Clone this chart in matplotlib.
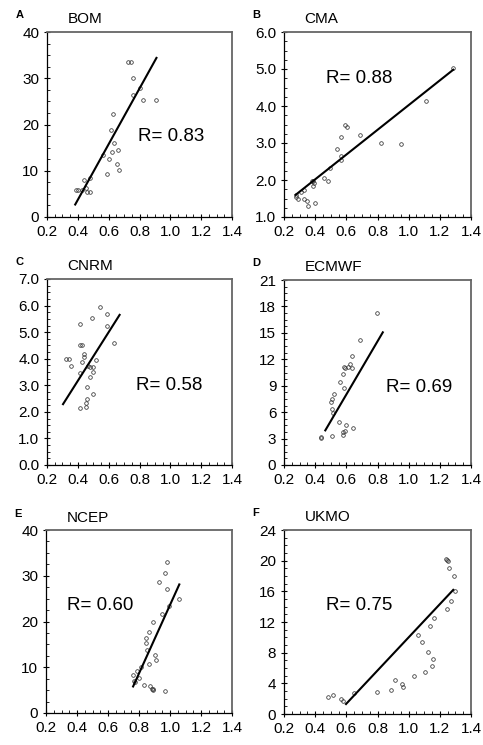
import matplotlib
matplotlib.use('Agg')
import matplotlib.pyplot as plt
from matplotlib.ticker import MultipleLocator, AutoMinorLocator, FormatStrFormatter

plt.rcParams['font.family'] = ['Liberation Sans', 'DejaVu Sans']

# Данные для каждой панели
bom_x = [0.39, 0.40, 0.437, 0.45, 0.46, 0.48, 0.43, 0.48, 0.56, 0.587, 0.604, 0.62, 0.615,
         0.63, 0.634, 0.656, 0.66, 0.669, 0.727, 0.744, 0.76, 0.755, 0.80, 0.82, 0.905]
bom_y = [5.8, 5.8, 7.9, 6.3, 5.5, 5.5, 5.8, 8.5, 13.3, 9.2, 12.5, 14.0, 18.8,
         22.2, 15.9, 11.5, 14.5, 10.1, 33.6, 33.6, 30.0, 26.3, 28.0, 25.3, 25.3]
bom_fit = ([0.383, 0.910], [2.7, 34.4])

cma_x = [0.275, 0.275, 0.288, 0.31, 0.331, 0.346, 0.355, 0.40, 0.331, 0.38, 0.387, 0.383, 0.39,
         0.458, 0.48, 0.495, 0.54, 0.566, 0.566, 0.566, 0.59, 0.604, 0.688, 0.82, 0.948, 1.114, 1.286]
cma_y = [1.59, 1.54, 1.50, 1.67, 1.49, 1.43, 1.31, 1.38, 1.74, 1.96, 1.96, 1.85, 1.92,
         2.05, 1.98, 2.32, 2.83, 2.64, 2.53, 3.17, 3.50, 3.43, 3.21, 2.99, 2.98, 4.14, 5.02]
cma_fit = ([0.275, 1.286], [1.60, 4.98])

cnrm_x = [0.325, 0.343, 0.356, 0.416, 0.416, 0.425, 0.43, 0.442, 0.442, 0.416, 0.412, 0.45, 0.45,
          0.46, 0.46, 0.464, 0.48, 0.498, 0.48, 0.498, 0.498, 0.492, 0.518, 0.546, 0.589, 0.589, 0.637]
cnrm_y = [4.0, 4.0, 3.74, 5.31, 4.51, 4.51, 3.86, 4.16, 4.05, 3.48, 2.16, 2.32, 2.17,
          2.47, 2.94, 3.74, 3.69, 3.69, 3.30, 3.49, 2.69, 5.55, 3.94, 5.95, 5.70, 5.24, 4.61]
cnrm_fit = ([0.304, 0.671], [2.29, 5.65])

ecmwf_x = [0.439, 0.439, 0.507, 0.507, 0.503, 0.51, 0.52, 0.514, 0.55, 0.56, 0.578, 0.585,
           0.587, 0.594, 0.608, 0.626, 0.639, 0.634, 0.578, 0.58, 0.594, 0.60, 0.641, 0.69, 0.796]
ecmwf_y = [3.14, 3.03, 3.29, 6.32, 7.19, 7.49, 8.06, 5.86, 4.92, 9.46, 10.37, 8.70,
           11.1, 11.0, 11.1, 11.5, 11.0, 12.4, 3.7, 3.44, 3.86, 4.54, 4.24, 14.19, 17.29]
ecmwf_fit = ([0.465, 0.834], [3.93, 15.06])

ncep_x = [0.762, 0.766, 0.775, 0.786, 0.80, 0.816, 0.844, 0.844, 0.849, 0.864, 0.862, 0.834, 0.87,
          0.883, 0.892, 0.89, 0.89, 0.90, 0.909, 0.929, 0.946, 0.965, 0.968, 0.983, 0.978, 0.996, 1.058]
ncep_y = [8.22, 6.9, 6.7, 9.09, 7.64, 9.96, 16.4, 15.3, 13.8, 17.8, 10.8, 6.2, 5.8,
          5.3, 5.0, 5.3, 19.8, 12.7, 11.6, 28.7, 21.7, 30.5, 4.7, 32.9, 27.1, 23.3, 24.9]
ncep_fit = ([0.762, 1.060], [5.8, 28.1])

ukmo_x = [0.484, 0.512, 0.568, 0.576, 0.652, 0.798, 0.888, 0.914, 0.959, 0.963, 1.037, 1.062, 1.084,
          1.108, 1.127, 1.14, 1.153, 1.15, 1.163, 1.237, 1.243, 1.254, 1.262, 1.292, 1.297, 1.249, 1.271]
ukmo_y = [2.17, 2.43, 1.95, 1.74, 2.73, 2.91, 3.17, 4.38, 3.9, 3.56, 4.9, 10.33, 9.33,
          5.47, 8.12, 11.5, 7.16, 6.29, 12.5, 20.2, 20.1, 19.9, 19.1, 18.0, 16.1, 13.76, 14.8]
ukmo_fit = ([0.598, 1.286], [1.30, 16.19])

letters = ['A', 'B', 'C', 'D', 'E', 'F']
models = ['BOM', 'CMA', 'CNRM', 'ECMWF', 'NCEP', 'UKMO']
r_labels = ['R= 0.83', 'R= 0.88', 'R= 0.58', 'R= 0.69', 'R= 0.60', 'R= 0.75']
xs = [bom_x, cma_x, cnrm_x, ecmwf_x, ncep_x, ukmo_x]
ys = [bom_y, cma_y, cnrm_y, ecmwf_y, ncep_y, ukmo_y]
fits = [bom_fit, cma_fit, cnrm_fit, ecmwf_fit, ncep_fit, ukmo_fit]
ylims = [(0, 40), (1.0, 6.0), (0.0, 7.0), (0, 21), (0, 40), (0, 24)]
ysteps = [10, 1.0, 1.0, 3, 10, 4]
yfmts = ['%d', '%.1f', '%.1f', '%d', '%d', '%d']
r_pos = [(0.67, 0.436), (0.40, 0.75), (0.66, 0.43), (0.72, 0.42), (0.29, 0.59), (0.40, 0.59)]

# Положение осей в пикселях (left, top, right, bottom)
boxes = [(47, 32, 232, 217), (284, 32, 471, 217),
         (47, 279, 232, 465), (284, 280, 471, 465),
         (46, 530, 232, 713), (284, 530, 471, 714)]

W, H = 483, 745
fig = plt.figure(figsize=(W / 100, H / 100), dpi=100)

for i in range(6):
    l, t, r, b = boxes[i]
    ax = fig.add_axes([l / W, 1 - b / H, (r - l) / W, (b - t) / H])

    ax.plot(xs[i], ys[i], 'o', ms=2.6, mfc='none', mec='#333333', mew=0.55)
    ax.plot(fits[i][0], fits[i][1], color='black', lw=1.5)

    ax.set_xlim(0.2, 1.4)
    ax.set_ylim(*ylims[i])
    ax.xaxis.set_major_locator(MultipleLocator(0.2))
    ax.xaxis.set_major_formatter(FormatStrFormatter('%.1f'))
    ax.yaxis.set_major_locator(MultipleLocator(ysteps[i]))
    ax.yaxis.set_major_formatter(FormatStrFormatter(yfmts[i]))
    ax.xaxis.set_minor_locator(AutoMinorLocator(4))
    ax.yaxis.set_minor_locator(AutoMinorLocator(4))
    ax.tick_params(which='major', direction='inout', length=5, width=0.8,
                   labelsize=11, pad=3, top=False, right=False)
    ax.tick_params(which='minor', direction='in', length=2.5, width=0.6,
                   top=False, right=False)

    for s in ['left', 'bottom']:
        ax.spines[s].set_color('black')
        ax.spines[s].set_linewidth(0.9)
    for s in ['top', 'right']:
        ax.spines[s].set_color('#666666')
        ax.spines[s].set_linewidth(1.3)

    ax.text(r_pos[i][0], r_pos[i][1], r_labels[i], transform=ax.transAxes,
            fontsize=13.5, ha='center', va='center')
    ax.text(0.11, 1.03, models[i], transform=ax.transAxes, fontsize=11,
            ha='left', va='bottom')
    ax.text(-0.17, 1.09, letters[i], transform=ax.transAxes, fontsize=8,
            fontweight='bold', ha='left', va='center')

fig.savefig('out.png', dpi=100)
